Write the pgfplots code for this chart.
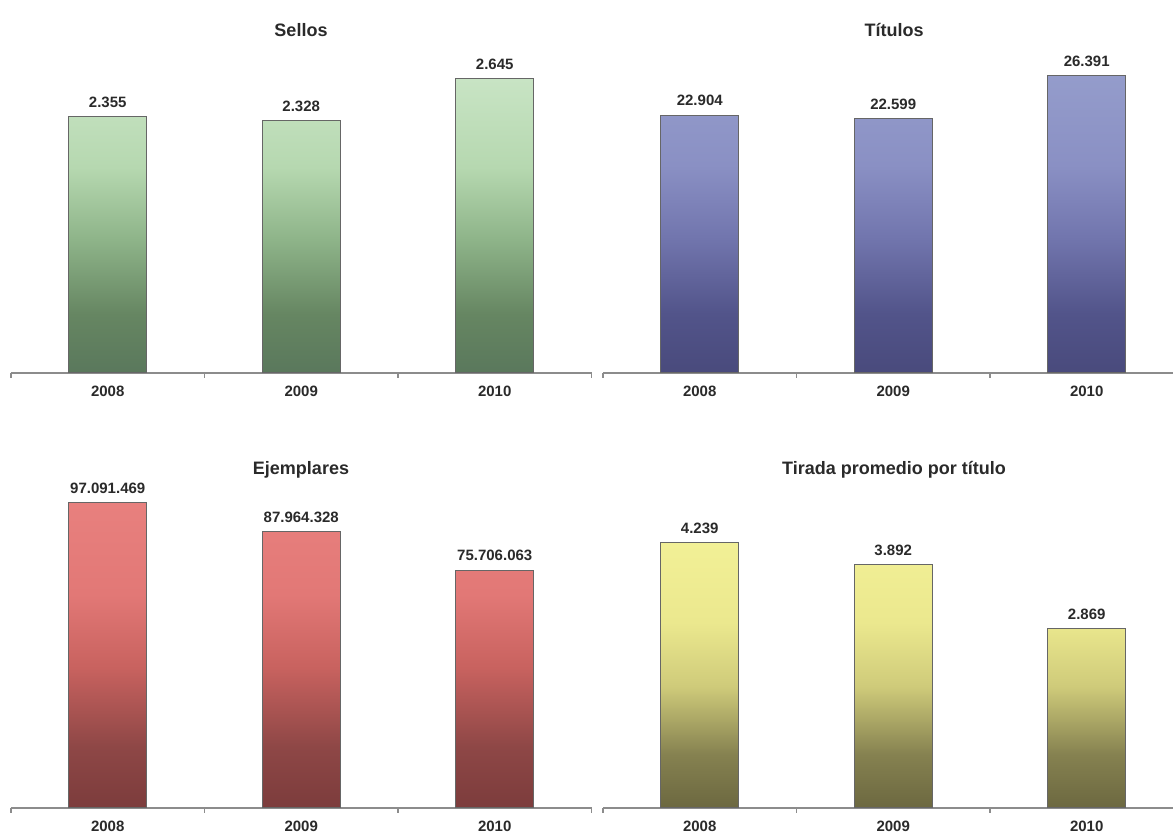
\documentclass[border=0pt]{standalone}
\usepackage{fontspec}
\setmainfont{Liberation Sans}
\usepackage{pgfplots}
\pgfplotsset{compat=1.18}
\usepackage{pgfplotstable}

\definecolor{gT}{HTML}{C8E4C4}\definecolor{gL}{HTML}{B6D8B0}\definecolor{gM}{HTML}{8FB58A}\definecolor{gD}{HTML}{668662}\definecolor{gB}{HTML}{5A785C}
\definecolor{bT}{HTML}{949CCB}\definecolor{bL}{HTML}{8A90C4}\definecolor{bM}{HTML}{7276AE}\definecolor{bD}{HTML}{52548A}\definecolor{bB}{HTML}{494A7C}
\definecolor{rT}{HTML}{E8807E}\definecolor{rL}{HTML}{E27876}\definecolor{rM}{HTML}{C8625F}\definecolor{rD}{HTML}{8E4746}\definecolor{rB}{HTML}{7C3C3C}
\definecolor{yT}{HTML}{F2F096}\definecolor{yL}{HTML}{EBE88E}\definecolor{yM}{HTML}{CFCB7A}\definecolor{yD}{HTML}{858150}\definecolor{yB}{HTML}{6C6840}
\definecolor{txt}{HTML}{2A2A2A}

\pgfdeclareverticalshading{gsh}{100bp}{color(0bp)=(gB); color(25bp)=(gB); color(35bp)=(gD); color(48bp)=(gM); color(60bp)=(gL); color(75bp)=(gT); color(100bp)=(gT)}
\pgfdeclareverticalshading{bsh}{100bp}{color(0bp)=(bB); color(25bp)=(bB); color(35bp)=(bD); color(48bp)=(bM); color(60bp)=(bL); color(75bp)=(bT); color(100bp)=(bT)}
\pgfdeclareverticalshading{rsh}{100bp}{color(0bp)=(rB); color(25bp)=(rB); color(35bp)=(rD); color(48bp)=(rM); color(60bp)=(rL); color(75bp)=(rT); color(100bp)=(rT)}
\pgfdeclareverticalshading{ysh}{100bp}{color(0bp)=(yB); color(25bp)=(yB); color(35bp)=(yD); color(48bp)=(yM); color(60bp)=(yL); color(75bp)=(yT); color(100bp)=(yT)}

\pgfplotstableread{
x y lab
0 2355 2.355
1 2328 2.328
2 2645 2.645
}\sellos
\pgfplotstableread{
x y lab
0 22904 22.904
1 22599 22.599
2 26391 26.391
}\titulos
\pgfplotstableread{
x y lab
0 97091469 97.091.469
1 87964328 87.964.328
2 75706063 75.706.063
}\ejemplares
\pgfplotstableread{
x y lab
0 4239 4.239
1 3892 3.892
2 2869 2.869
}\tirada

\pgfplotsset{panel/.style={
  scale only axis, width=290.25pt, xmin=-0.5, xmax=2.5, ymin=0,
  anchor=south west,
  axis x line*=bottom, axis y line=none, clip=false,
  xtick={0,1,2}, xticklabels={2008,2009,2010},
  major tick length=0pt, minor xtick={-0.5,0.5,1.5,2.5}, minor tick length=2.5pt,
  tick align=outside,
  x axis line style={draw=black!45, line width=0.8pt},
  every minor tick/.style={draw=black!45, line width=0.6pt},
  xticklabel style={font=\bfseries\fontsize{7.5}{9}\selectfont, text=txt, yshift=-3pt},
  point meta=explicit symbolic,
  nodes near coords,
  nodes near coords style={font=\bfseries\fontsize{7.5}{9}\selectfont, text=txt, anchor=south, yshift=1pt},
  ybar, bar width=39pt,
}}
\tikzset{bars/.style={draw=black!60, line width=0.5pt, shade, shading=#1}}

\begin{document}
\begin{tikzpicture}
\useasboundingbox (0,0) rectangle (586.5pt,419.5pt);
\tikzset{ttl/.style={font=\bfseries\fontsize{9}{11}\selectfont, text=txt}}

\begin{axis}[panel, at={(5.5pt,233pt)}, height=147pt, ymin=400, ymax=2645]
\addplot[bars=gsh] table[x=x,y=y,meta=lab]{\sellos};
\end{axis}
\begin{axis}[panel, at={(301.5pt,233pt)}, width=285.75pt, xmax=2.4536, height=148.5pt, ymax=26391]
\addplot[bars=bsh] table[x=x,y=y,meta=lab]{\titulos};
\end{axis}
\begin{axis}[panel, at={(5.5pt,15.5pt)}, height=152.5pt, ymax=97091469]
\addplot[bars=rsh] table[x=x,y=y,meta=lab]{\ejemplares};
\end{axis}
\begin{axis}[panel, at={(301.5pt,15.5pt)}, width=285.75pt, xmax=2.4536, height=132.5pt, ymax=4239]
\addplot[bars=ysh] table[x=x,y=y,meta=lab]{\tirada};
\end{axis}

\node[ttl] at (150.5pt,404.5pt) {Sellos};
\node[ttl] at (447pt,404.5pt) {Títulos};
\node[ttl] at (150.5pt,184.5pt) {Ejemplares};
\node[ttl] at (447pt,184.5pt) {Tirada promedio por título};
\end{tikzpicture}
\end{document}
